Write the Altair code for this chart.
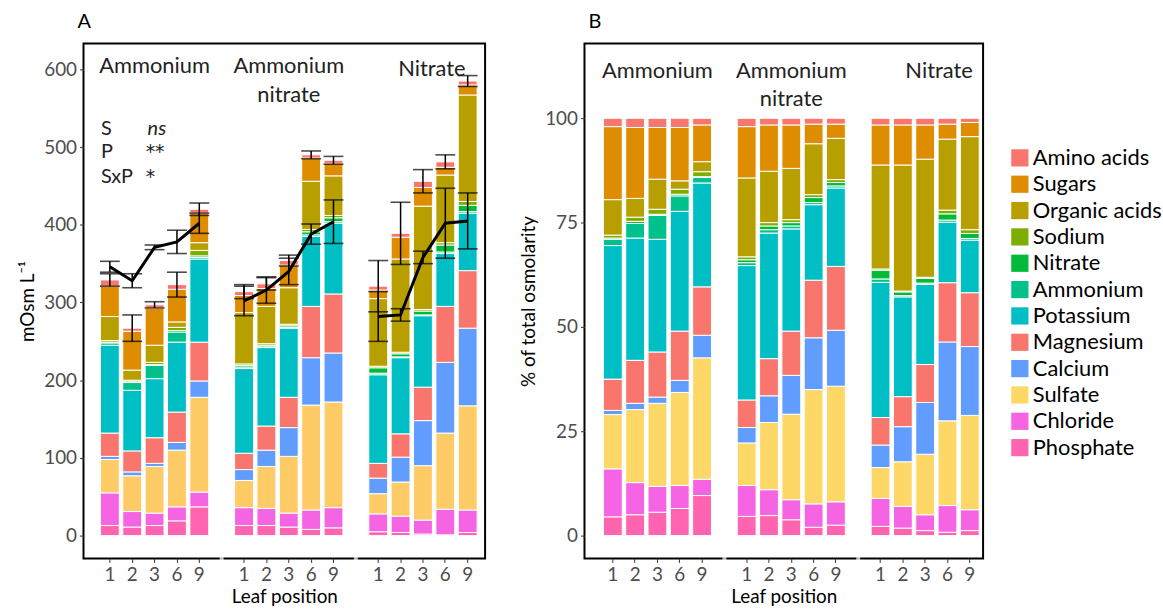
import altair as alt
import pandas as pd

FONT = "Lato"

GROUPS = ["Ammonium", "Ammonium nitrate", "Nitrate"]
LEAVES = ["1", "2", "3", "6", "9"]
# stacking order, bottom -> top
COMPONENTS = ["Phosphate", "Chloride", "Sulfate", "Calcium", "Magnesium", "Potassium",
              "Ammonium", "Nitrate", "Sodium", "Organic acids", "Sugars", "Amino acids"]
COLORS_A = ["#FF64B0", "#F564E3", "#FECB67", "#619CFF", "#F8766D", "#00BFC4",
            "#00C08B", "#00BA38", "#7CAE00", "#B79F00", "#DE8C00", "#F8766D"]
COLORS_B = ["#FF64B0", "#F564E3", "#FED866", "#619CFF", "#F8766D", "#00BFC4",
            "#00C08B", "#00BA38", "#7CAE00", "#B79F00", "#DE8C00", "#F8766D"]

# Panel A: mOsm L-1 ; rows follow COMPONENTS, columns follow LEAVES
A_AMMONIUM = [
    [13, 11, 13, 19, 37],
    [42, 20, 16, 18, 19],
    [43, 46, 60, 73, 122],
    [4, 5, 4, 10, 21],
    [30, 27, 33, 39, 50],
    [113, 78, 76, 90, 107],
    [3, 10, 17, 13, 2],
    [1, 1, 1, 2, 2],
    [2, 2, 3, 4, 7],
    [31, 13, 22, 7, 10],
    [39, 50, 48, 42, 38],
    [8, 4, 4, 6, 5],
]
A_AMMONIUM_NITRATE = [
    [13, 13, 11, 8, 10],
    [23, 22, 18, 25, 26],
    [35, 54, 73, 135, 136],
    [14, 21, 37, 61, 63],
    [21, 31, 39, 66, 76],
    [109, 101, 89, 90, 91],
    [2, 1, 1, 2, 2],
    [2, 2, 2, 4, 5],
    [2, 2, 2, 3, 3],
    [66, 48, 47, 62, 51],
    [22, 23, 29, 30, 16],
    [5, 6, 6, 4, 4],
]
A_NITRATE = [
    [5, 4, 2, 1, 4],
    [23, 21, 18, 33, 29],
    [26, 44, 70, 98, 134],
    [20, 32, 58, 91, 100],
    [19, 30, 43, 72, 74],
    [114, 98, 92, 68, 74],
    [2, 1, 1, 2, 2],
    [7, 4, 5, 9, 8],
    [2, 2, 2, 3, 5],
    [87, 120, 133, 87, 137],
    [11, 28, 24, 10, 13],
    [5, 5, 8, 7, 5],
]
# error of the summed bars
A_BAR_ERR = [[8, 17, 4, 16, 8], [9, 8, 7, 5, 5], [33, 40, 15, 9, 7]]
# measured osmolarity (black line) and its error
A_MEASURED = [[346, 328, 371, 378, 402], [302, 316, 340, 388, 404], [282, 284, 358, 402, 405]]
A_MEASURED_ERR = [[7, 9, 3, 15, 13], [19, 17, 17, 13, 28], [32, 8, 8, 45, 36]]

# Panel B: % of total osmolarity
B_AMMONIUM = [
    [4.5, 5.0, 5.6, 6.5, 9.6],
    [11.5, 7.7, 6.2, 5.5, 3.9],
    [13.0, 17.5, 19.9, 22.3, 29.1],
    [1.0, 1.5, 1.5, 2.9, 5.4],
    [7.5, 10.3, 10.8, 11.8, 11.6],
    [32.0, 29.3, 27.0, 28.7, 24.9],
    [1.5, 3.5, 5.7, 3.7, 1.3],
    [0.3, 0.5, 0.3, 0.4, 0.2],
    [0.7, 1.0, 1.2, 1.2, 1.2],
    [8.5, 4.5, 7.2, 2.0, 2.4],
    [17.5, 17.0, 12.4, 12.8, 8.8],
    [2.0, 2.2, 2.2, 2.2, 1.6],
]
B_AMMONIUM_NITRATE = [
    [4.6, 4.8, 3.8, 2.0, 2.5],
    [7.4, 6.2, 4.8, 5.6, 5.6],
    [10.2, 16.1, 20.5, 27.4, 27.7],
    [3.7, 6.4, 9.3, 12.4, 13.4],
    [6.6, 8.9, 10.6, 13.8, 15.3],
    [32.2, 30.1, 24.5, 18.1, 18.8],
    [0.7, 0.8, 0.7, 0.5, 0.5],
    [0.7, 0.9, 0.8, 1.2, 0.8],
    [0.7, 0.8, 0.7, 0.7, 0.7],
    [18.9, 12.3, 12.3, 12.2, 9.9],
    [12.3, 11.1, 10.4, 4.7, 3.4],
    [2.0, 1.6, 1.6, 1.4, 1.4],
]
B_NITRATE = [
    [2.2, 1.8, 1.2, 0.8, 1.2],
    [6.7, 5.2, 3.8, 6.4, 5.0],
    [7.4, 10.7, 14.5, 20.3, 22.6],
    [5.4, 8.4, 12.4, 18.9, 16.5],
    [6.6, 7.2, 9.1, 14.2, 12.9],
    [32.4, 23.9, 19.2, 14.5, 12.6],
    [0.8, 0.3, 0.3, 0.5, 0.4],
    [2.1, 0.9, 1.1, 1.5, 1.2],
    [0.3, 0.2, 0.3, 0.9, 0.9],
    [24.9, 30.2, 28.3, 17.0, 22.3],
    [9.6, 9.6, 8.2, 3.6, 3.4],
    [1.6, 1.6, 1.6, 1.4, 1.0],
]

STATS_TERMS = ["S", "P", "SxP"]
STATS_SIGNIF = ["ns", "**", "*"]
STATS_Y = [523, 493, 462]

Y_DOMAIN_A = [-29.4, 633.2]
Y_DOMAIN_B = [-5.48, 117.9]

# ---------------------------------------------------------------- data frames
X_DOMAIN = []
GAP_KEYS = []
for i, g in enumerate(GROUPS):
    if i:
        X_DOMAIN.append(f"gap{i}")
        GAP_KEYS.append(f"gap{i}")
    X_DOMAIN += [f"{g}|{l}" for l in LEAVES]
BAR_KEYS = [k for k in X_DOMAIN if "|" in k]


def stack_frame(tables):
    rows = []
    for g, table in zip(GROUPS, tables):
        for ci, comp in enumerate(COMPONENTS):
            for li, leaf in enumerate(LEAVES):
                rows.append({"group": g, "key": f"{g}|{leaf}", "component": comp,
                             "ci": ci, "value": table[ci][li]})
    return pd.DataFrame(rows)


dfA = stack_frame([A_AMMONIUM, A_AMMONIUM_NITRATE, A_NITRATE])
dfB = stack_frame([B_AMMONIUM, B_AMMONIUM_NITRATE, B_NITRATE])

err_rows = []
for gi, (g, table) in enumerate(zip(GROUPS, [A_AMMONIUM, A_AMMONIUM_NITRATE, A_NITRATE])):
    for li, leaf in enumerate(LEAVES):
        tot = sum(row[li] for row in table)
        err_rows.append({
            "group": g, "key": f"{g}|{leaf}", "pos": li,
            "tot_lo": tot - A_BAR_ERR[gi][li], "tot_hi": tot + A_BAR_ERR[gi][li],
            "meas": A_MEASURED[gi][li],
            "meas_lo": A_MEASURED[gi][li] - A_MEASURED_ERR[gi][li],
            "meas_hi": A_MEASURED[gi][li] + A_MEASURED_ERR[gi][li],
        })
dfE = pd.DataFrame(err_rows)

stats_df = pd.DataFrame({"key": f"{GROUPS[0]}|1", "term": STATS_TERMS,
                         "sig": STATS_SIGNIF, "y": STATS_Y})


def x_enc(align, pad_outer):
    return alt.X("key:N",
                 scale=alt.Scale(type="band", domain=X_DOMAIN, paddingInner=0.156,
                                 paddingOuter=pad_outer, align=align),
                 axis=alt.Axis(values=BAR_KEYS, labelExpr="split(datum.value, '|')[1]",
                               title="Leaf position", labelAngle=0, labelPadding=3,
                               titlePadding=3))


def panel(df, colors, ydom, yticks, ytitle, align, pad_outer):
    x = x_enc(align, pad_outer)
    ysc = alt.Scale(domain=ydom, nice=False, zero=False)
    yax = alt.Axis(values=yticks, title=ytitle, titlePadding=6, labelPadding=3)
    bars = alt.Chart(df).mark_bar(stroke="white", strokeWidth=1).encode(
        x=x,
        y=alt.Y("value:Q", stack="zero", scale=ysc, axis=yax),
        color=alt.Color("component:N",
                        scale=alt.Scale(domain=COMPONENTS[::-1], range=colors[::-1]),
                        legend=None),
        order=alt.Order("ci:Q", sort="ascending"),
    )
    # small breaks in the bottom axis line between the three nitrogen-source groups
    gaps = alt.Chart(pd.DataFrame({"key": GAP_KEYS, "y": [ydom[0]] * len(GAP_KEYS)})).mark_tick(
        color="white", thickness=4, size=4, dx=-4).encode(
        x=x, y=alt.Y("y:Q", scale=ysc, axis=yax))
    return bars, gaps, x, ysc, yax


# ---------------------------------------------------------------- panel A
barsA, gapsA, xA, yscA, yaxA = panel(dfA, COLORS_A, Y_DOMAIN_A, [0, 100, 200, 300, 400, 500, 600],
                                     "mOsm L\u207b\u00b9", 0.68, 0.556)

eA = alt.Chart(dfE)
rule_meas = eA.mark_rule(color="black", strokeWidth=1.5).encode(
    x=xA, y=alt.Y("meas_lo:Q", scale=yscA, axis=yaxA), y2="meas_hi:Q")
rule_tot = eA.mark_rule(color="black", strokeWidth=1.5).encode(
    x=xA, y=alt.Y("tot_lo:Q", scale=yscA, axis=yaxA), y2="tot_hi:Q")
caps = eA.transform_fold(["tot_lo", "tot_hi", "meas_lo", "meas_hi"], as_=["which", "v"]).mark_tick(
    color="black", thickness=1.6, size=20).encode(
    x=xA, y=alt.Y("v:Q", scale=yscA, axis=yaxA))
line = eA.mark_line(color="black", strokeWidth=3).encode(
    x=xA, y=alt.Y("meas:Q", scale=yscA, axis=yaxA), detail="group:N", order="pos:Q")

labA = pd.DataFrame({"key": [f"{GROUPS[0]}|3", f"{GROUPS[1]}|3"],
                     "label": ["Ammonium", "Ammonium\nnitrate"], "y": [617, 617]})
labA3 = pd.DataFrame({"key": [f"{GROUPS[2]}|3"], "label": ["Nitrate"], "y": [613]})
txtA = alt.Chart(labA).mark_text(font=FONT, fontSize=22, baseline="top", lineBreak="\n",
                                 lineHeight=29, color="#222").encode(
    x=xA, y=alt.Y("y:Q", scale=yscA, axis=yaxA), text="label:N")
txtA3 = alt.Chart(labA3).mark_text(font=FONT, fontSize=22, baseline="top", dx=9,
                                   color="#222").encode(
    x=xA, y=alt.Y("y:Q", scale=yscA, axis=yaxA), text="label:N")
stat1 = alt.Chart(stats_df).mark_text(font=FONT, fontSize=20, align="left", dx=-9,
                                      color="#222").encode(
    x=xA, y=alt.Y("y:Q", scale=yscA, axis=yaxA), text="term:N")
stat_ns = alt.Chart(stats_df).transform_filter("datum.sig == 'ns'").mark_text(
    font=FONT, fontSize=20, align="left", dx=38, fontStyle="italic", color="#222").encode(
    x=xA, y=alt.Y("y:Q", scale=yscA, axis=yaxA), text="sig:N")
stat_ast = alt.Chart(stats_df).transform_filter("datum.sig != 'ns'").mark_text(
    font="DejaVu Sans", fontSize=19, align="left", dx=36, dy=0, color="#222").encode(
    x=xA, y=alt.Y("y:Q", scale=yscA, axis=yaxA), text="sig:N")

chartA = alt.layer(barsA, rule_meas, line, rule_tot, caps, txtA, txtA3, stat1, stat_ns,
                   stat_ast, gapsA).properties(
    width=404, height=518,
    title=alt.TitleParams("A", anchor="start", frame="group", dx=-6, fontSize=20,
                          fontWeight="normal", font=FONT, offset=12, color="black"))

# ---------------------------------------------------------------- panel B
barsB, gapsB, xB, yscB, yaxB = panel(dfB, COLORS_B, Y_DOMAIN_B, [0, 25, 50, 75, 100],
                                     "% of total osmolarity", 0.83, 0.511)
barsB = barsB.encode(
    color=alt.Color("component:N",
                    scale=alt.Scale(domain=COMPONENTS[::-1], range=COLORS_B[::-1]),
                    legend=alt.Legend(title=None, orient="none", legendX=427, legendY=104,
                                      symbolType="square", symbolSize=300,
                                      symbolStrokeWidth=0, symbolOpacity=1,
                                      labelFont=FONT, labelFontSize=22, labelColor="black",
                                      rowPadding=4.5, labelOffset=2)))

labB = pd.DataFrame({"key": [f"{GROUPS[0]}|3", f"{GROUPS[1]}|3"],
                     "label": ["Ammonium", "Ammonium\nnitrate"], "y": [113.6, 113.6]})
labB3 = pd.DataFrame({"key": [f"{GROUPS[2]}|3"], "label": ["Nitrate"], "y": [113.6]})
txtB = alt.Chart(labB).mark_text(font=FONT, fontSize=22, baseline="top", lineBreak="\n",
                                 lineHeight=28, color="#222").encode(
    x=xB, y=alt.Y("y:Q", scale=yscB, axis=yaxB), text="label:N")
txtB3 = alt.Chart(labB3).mark_text(font=FONT, fontSize=22, baseline="top", dx=14,
                                   color="#222").encode(
    x=xB, y=alt.Y("y:Q", scale=yscB, axis=yaxB), text="label:N")

chartB = alt.layer(barsB, txtB, txtB3, gapsB).properties(
    width=401, height=518,
    title=alt.TitleParams("B", anchor="start", frame="group", dx=4, fontSize=20,
                          fontWeight="normal", font=FONT, offset=12, color="black"))

chart = alt.hconcat(chartA, chartB, spacing=32).resolve_scale(color="independent").properties(
    padding={"left": 17, "top": 9, "right": 0, "bottom": 0}, background="white"
).configure_view(stroke="black", strokeWidth=2).configure_axis(
    labelFont=FONT, labelFontSize=19, labelColor="#4D4D4D",
    titleFont=FONT, titleFontSize=19, titleColor="black", titleFontWeight="normal",
    tickColor="#333333", tickSize=4, domain=False, grid=False,
)

chart.save("out.html", embed_options={"renderer": "svg", "actions": False})
